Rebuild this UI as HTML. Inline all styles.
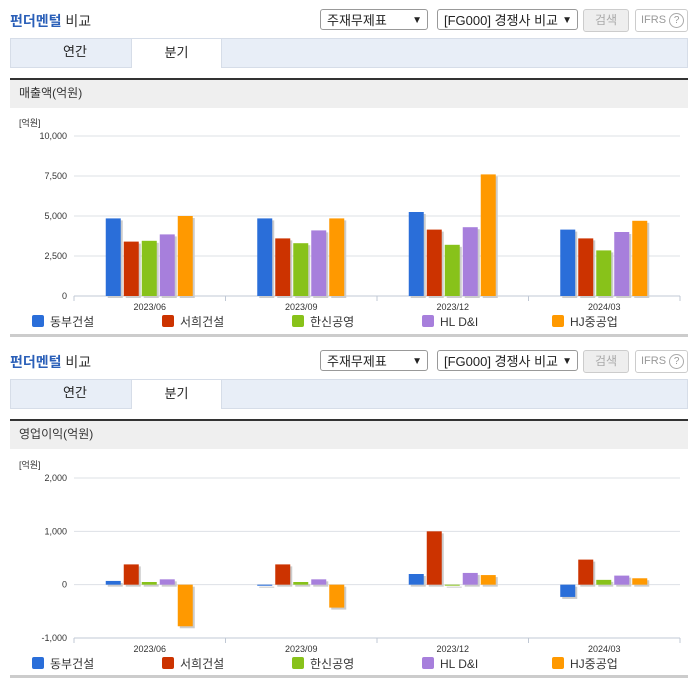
<!DOCTYPE html>
<html><head><meta charset="utf-8">
<style>
body{margin:0;width:696px;height:684px;background:#fff;font-family:"Liberation Sans","Noto Sans CJK KR",sans-serif;position:relative;overflow:hidden}
.abs{position:absolute}
.title{font-size:14px;color:#2a5fb8;font-weight:bold}
.title span{color:#333;font-weight:normal}
.sel{border:1px solid #999;border-radius:3px;background:#fff;font-size:13px;color:#222;height:21px;line-height:21px;padding-left:6px;box-sizing:border-box}
.sel i{position:absolute;right:5px;top:0;font-style:normal;font-size:10px}
.btn{border:1px solid #ccc;border-radius:3px;background:#eee;color:#aaa;font-size:12px;text-align:center;line-height:21px;height:23px;box-sizing:border-box}
.ifrs{border:1px solid #ccc;border-radius:3px;background:#fff;color:#999;font-size:11px;line-height:21px;height:23px;box-sizing:border-box;padding-left:5px}
.tabbar{background:#e8eef7;border:1px solid #d6dde8;box-sizing:border-box}
.tab{font-size:13px;color:#222;text-align:center;line-height:28px}
.hdr{background:#efefef;border-top:2px solid #333;font-size:12px;color:#333;line-height:27px;padding-left:9px;box-sizing:border-box}
svg text{font-family:"Liberation Sans","Noto Sans CJK KR",sans-serif}
</style></head><body>
<div id="b1"></div>
<div id="b2"></div>
<script>
const categories=["2023/06","2023/09","2023/12","2024/03"];
const seriesNames=["동부건설","서희건설","한신공영","HL D&I","HJ중공업"];
const seriesColors=["#2a6ed9","#cc3300","#88c21a","#a77fdc","#ff9900"];
const revDongbu=[4850,4850,5250,4150];
const revSeohee=[3400,3600,4150,3600];
const revHanshin=[3450,3300,3200,2850];
const revHL=[3850,4100,4300,4000];
const revHJ=[5000,4850,7600,4700];
const opDongbu=[70,-20,200,-230];
const opSeohee=[380,380,1000,470];
const opHanshin=[50,50,-10,90];
const opHL=[100,100,220,170];
const opHJ=[-780,-430,180,120];
const revTicks=[0,2500,5000,7500,10000];
const opTicks=[-1000,0,1000,2000];

function section(el,top,hdrText,series,ticks,yMin,yMax,yTopPx,yBotPx,chartName){
  el.className='abs';el.style.left='0';el.style.top=top+'px';el.style.width='696px';el.style.height='341px';
  let h='';
  h+=`<div class="abs title" style="left:10px;top:11px">펀더멘털 <span>비교</span></div>`;
  h+=`<div class="abs sel" style="left:320px;top:9px;width:108px">주재무제표<i>&#9660;</i></div>`;
  h+=`<div class="abs sel" style="left:437px;top:9px;width:141px">[FG000] 경쟁사 비교<i>&#9660;</i></div>`;
  h+=`<div class="abs btn" style="left:583px;top:9px;width:46px">검색</div>`;
  h+=`<div class="abs ifrs" style="left:635px;top:9px;width:53px">IFRS <span style="border:1px solid #aaa;border-radius:50%;display:inline-block;width:13px;height:13px;line-height:13px;text-align:center;font-size:10px">?</span></div>`;
  h+=`<div class="abs tabbar" style="left:10px;top:38px;width:678px;height:30px"></div>`;
  h+=`<div class="abs tab" style="left:30px;top:38px;width:90px">연간</div>`;
  h+=`<div class="abs tab" style="left:131px;top:38px;width:91px;height:30px;background:#fff;border:1px solid #d6dde8;border-bottom:none;box-sizing:border-box">분기</div>`;
  h+=`<div class="abs hdr" style="left:10px;top:78px;width:678px;height:30px">${hdrText}</div>`;
  h+=`<div class="abs" style="left:10px;top:334px;width:678px;height:3px;background:#ccc"></div>`;
  el.innerHTML=h;
  const ns='http://www.w3.org/2000/svg';
  const svg=document.createElementNS(ns,'svg');
  svg.setAttribute('width','696');svg.setAttribute('height','341');
  svg.style.position='absolute';svg.style.left='0';svg.style.top='0';
  
  
  el.appendChild(svg);
  const x0=74,x1=680,gw=(x1-x0)/categories.length;
  const y=v=>yBotPx-(v-yMin)/(yMax-yMin)*(yBotPx-yTopPx);
  let s=`<text x="19" y="${yTopPx-10}" font-size="9" fill="#333">[억원]</text>`;
  ticks.forEach(t=>{
    s+=`<line x1="${x0}" x2="${x1}" y1="${y(t)}" y2="${y(t)}" stroke="#dde0e6"/>`;
    s+=`<text x="67" y="${y(t)+3}" font-size="9" fill="#333" text-anchor="end">${t.toLocaleString('en-US')}</text>`;
  });
  s+=`<line x1="${x0}" x2="${x1}" y1="${yBotPx}" y2="${yBotPx}" stroke="#c0c8d4"/>`;
  for(let i=0;i<=categories.length;i++){s+=`<line x1="${x0+i*gw}" x2="${x0+i*gw}" y1="${yBotPx}" y2="${yBotPx+5}" stroke="#c0c8d4"/>`;}
  svg.innerHTML=s;
  const z=y(0);
  categories.forEach((c,i)=>{
    const cx=x0+gw*(i+0.5);
    series.forEach((arr,k)=>{
      const v=arr[i];const bx=cx-44+k*18;const top=Math.min(y(v),z);const hh=Math.max(Math.abs(y(v)-z),1);
      const sh=document.createElementNS(ns,'rect');
      sh.setAttribute('x',bx+2);sh.setAttribute('y',top+2);sh.setAttribute('width',15);sh.setAttribute('height',hh);sh.setAttribute('fill','#ccc');
      
      
      svg.appendChild(sh);
      const r=document.createElementNS(ns,'rect');
      r.setAttribute('x',bx);r.setAttribute('y',top);r.setAttribute('width',15);r.setAttribute('height',hh);r.setAttribute('fill',seriesColors[k]);
      
      
      svg.appendChild(r);
    });
    const t=document.createElementNS(ns,'text');
    t.setAttribute('x',cx);t.setAttribute('y',yBotPx+14);t.setAttribute('font-size','9');t.setAttribute('fill','#333');t.setAttribute('text-anchor','middle');
    t.textContent=c;
    
    
    svg.appendChild(t);
  });
  seriesNames.forEach((n,k)=>{
    const lx=32+k*130, ly=yBotPx+19;
    const g=document.createElementNS(ns,'g');
    
    
    g.innerHTML=`<rect x="${lx}" y="${ly}" width="12" height="12" rx="2" fill="${seriesColors[k]}"/><text x="${lx+18}" y="${ly+11}" font-size="12" fill="#333">${n}</text>`;
    svg.appendChild(g);
  });
}
section(document.getElementById('b1'),0,'매출액(억원)',[revDongbu,revSeohee,revHanshin,revHL,revHJ],revTicks,0,10000,136,296,'revenue-chart');
section(document.getElementById('b2'),341,'영업이익(억원)',[opDongbu,opSeohee,opHanshin,opHL,opHJ],opTicks,-1000,2000,137,297,'operating-profit-chart');
</script>
</body></html>
